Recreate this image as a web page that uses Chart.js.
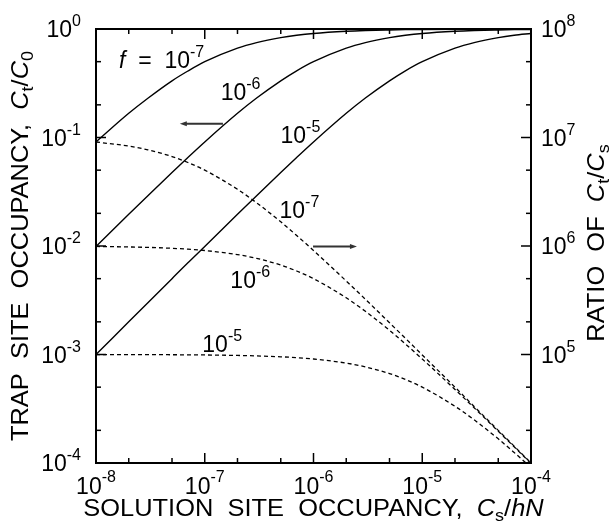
<!DOCTYPE html>
<html>
<head>
<meta charset="utf-8">
<script src="https://cdn.jsdelivr.net/npm/chart.js@4.4.1/dist/chart.umd.min.js"></script>
<style>
  html, body { margin: 0; padding: 0; background: #fff; }
  canvas { display: block; }
</style>
</head>
<body>
<canvas id="chart" width="614" height="526"></canvas>
<script>
// Solution site occupancy Cs/hN (x values)
const xValues = [1e-8, 2e-8, 3e-8, 5e-8, 7e-8, 1e-7, 2e-7, 3e-7, 5e-7, 7e-7,
  1e-6, 2e-6, 3e-6, 5e-6, 7e-6, 1e-5, 2e-5, 3e-5, 5e-5, 7e-5, 1e-4];

// Trap site occupancy Ct/C0 (solid, left axis)
const occF7 = [0.091, 0.167, 0.23, 0.333, 0.41, 0.5, 0.667, 0.75, 0.833, 0.875,
  0.909, 0.952, 0.968, 0.98, 0.986, 0.99, 0.995, 0.997, 0.998, 0.999, 0.999];
const occF6 = [0.0099, 0.0196, 0.0291, 0.0476, 0.0654, 0.0909, 0.167, 0.231, 0.333, 0.412,
  0.5, 0.667, 0.75, 0.833, 0.875, 0.909, 0.952, 0.968, 0.98, 0.986, 0.99];
const occF5 = [0.001, 0.002, 0.003, 0.005, 0.007, 0.0099, 0.0196, 0.0291, 0.0476, 0.0654,
  0.0909, 0.167, 0.231, 0.333, 0.412, 0.5, 0.667, 0.75, 0.833, 0.875, 0.909];

// Ratio Ct/Cs (dashed, right axis)
const ratioF7 = [9.09e6, 8.33e6, 7.69e6, 6.67e6, 5.88e6, 5.0e6, 3.33e6, 2.5e6, 1.67e6, 1.25e6,
  9.09e5, 4.76e5, 3.23e5, 1.96e5, 1.41e5, 9.9e4, 5.0e4, 3.32e4, 2.0e4, 1.43e4, 1.0e4];
const ratioF6 = [9.9e5, 9.8e5, 9.71e5, 9.52e5, 9.35e5, 9.09e5, 8.33e5, 7.69e5, 6.67e5, 5.88e5,
  5.0e5, 3.33e5, 2.5e5, 1.67e5, 1.25e5, 9.09e4, 4.76e4, 3.23e4, 1.96e4, 1.41e4, 9.9e3];
const ratioF5 = [9.99e4, 9.98e4, 9.97e4, 9.95e4, 9.93e4, 9.9e4, 9.8e4, 9.71e4, 9.52e4, 9.35e4,
  9.09e4, 8.33e4, 7.69e4, 6.67e4, 5.88e4, 5.0e4, 3.33e4, 2.5e4, 1.67e4, 1.25e4, 9.09e3];

// Axis ticks
const xTicks = [1e-8, 1e-7, 1e-6, 1e-5, 1e-4];
const xTickExp = ['-8', '-7', '-6', '-5', '-4'];
const yTicks = [1e-4, 1e-3, 1e-2, 1e-1, 1];
const yTickExp = ['-4', '-3', '-2', '-1', '0'];
const y2Ticks = [1e4, 1e5, 1e6, 1e7, 1e8];
const y2TickExp = ['', '5', '6', '7', '8'];

// Curve labels (data coordinates on x / left axis)
const labelX = [1.63e-8, 1.40e-7, 4.97e-7, 4.87e-7, 1.72e-7, 9.5e-8];
const labelY = [0.44, 0.223, 0.0886, 0.0181, 0.00413, 0.00106];
const labelExp = ['-7', '-6', '-5', '-7', '-6', '-5'];

// Arrows: [from x, to x, y] on the left axis
const arrows = [[1.47e-7, 5.9e-8, 0.134], [9.9e-7, 2.51e-6, 0.0099]];

const FONT = "'Liberation Sans', Arial, Helvetica, sans-serif";

const pts = arr => xValues.map((x, i) => ({ x: x, y: arr[i] }));

function setFont(ctx, size, italic) {
  ctx.font = (italic ? 'italic ' : '') + size + 'px ' + FONT;
}

// draws text parts one after another: {t, size, italic, dy}
function drawRich(ctx, parts, x, y, align, stretch) {
  stretch = stretch || 1;
  let w = 0;
  parts.forEach(p => { setFont(ctx, p.size, p.italic); w += ctx.measureText(p.t).width; });
  w *= stretch;
  const x0 = align === 'center' ? x - w / 2 : align === 'right' ? x - w : x;
  ctx.save();
  ctx.translate(x0, y);
  ctx.scale(stretch, 1);
  ctx.textAlign = 'left';
  ctx.textBaseline = 'alphabetic';
  let cx = 0;
  parts.forEach(p => {
    setFont(ctx, p.size, p.italic);
    ctx.fillText(p.t, cx, p.dy || 0);
    cx += ctx.measureText(p.t).width;
  });
  ctx.restore();
}

function powParts(exp, rise) {
  const parts = [{ t: '10', size: 23 }];
  if (exp !== '') parts.push({ t: exp, size: 16, dy: -rise });
  return parts;
}

const TITLE = 24, SUB = 17, STRETCH = 1.06;

const decorPlugin = {
  id: 'decor',
  afterDatasetsDraw(chart) {
    const ctx = chart.ctx;
    const a = chart.chartArea;
    const sx = chart.scales.x, sy = chart.scales.y, sy2 = chart.scales.y2;
    ctx.save();
    ctx.fillStyle = '#000';
    ctx.strokeStyle = '#000';

    // frame
    ctx.lineWidth = 2;
    ctx.strokeRect(a.left, a.top, a.right - a.left, a.bottom - a.top);

    // inward ticks, majors at decades, minors at 2 and 5
    ctx.lineWidth = 1.5;
    const tick = (x1, y1, x2, y2) => { ctx.beginPath(); ctx.moveTo(x1, y1); ctx.lineTo(x2, y2); ctx.stroke(); };
    xTicks.forEach(v => {
      [[v, 10], [v * 2, 5], [v * 5, 5]].forEach(([t, len]) => {
        if (t > sx.max * 1.0001) return;
        const px = sx.getPixelForValue(t);
        tick(px, a.bottom, px, a.bottom - len);
        tick(px, a.top, px, a.top + len);
      });
    });
    yTicks.forEach(v => {
      [[v, 10], [v * 2, 5], [v * 5, 5]].forEach(([t, len]) => {
        if (t > sy.max * 1.0001) return;
        const py = sy.getPixelForValue(t);
        tick(a.left, py, a.left + len, py);
      });
    });
    y2Ticks.forEach(v => {
      [[v, 10], [v * 2, 5], [v * 5, 5]].forEach(([t, len]) => {
        if (t > sy2.max * 1.0001) return;
        const py = sy2.getPixelForValue(t);
        tick(a.right, py, a.right - len, py);
      });
    });

    // tick labels
    xTicks.forEach((v, i) => {
      drawRich(ctx, powParts(xTickExp[i], 12), sx.getPixelForValue(v), a.bottom + 30.5, 'center');
    });
    yTicks.forEach((v, i) => {
      drawRich(ctx, powParts(yTickExp[i], 11), 81, sy.getPixelForValue(v) + 8.3, 'right');
    });
    y2Ticks.forEach((v, i) => {
      if (y2TickExp[i] === '') return;
      drawRich(ctx, powParts(y2TickExp[i], 11), a.right + 10, sy2.getPixelForValue(v) + 8.3, 'left');
    });

    // axis titles
    drawRich(ctx, [
      { t: 'SOLUTION  SITE  OCCUPANCY,  ', size: TITLE },
      { t: 'C', size: TITLE, italic: true },
      { t: 's', size: SUB, dy: 5 },
      { t: '/', size: TITLE },
      { t: 'hN', size: TITLE, italic: true }
    ], (a.left + a.right) / 2, 516, 'center', STRETCH);

    const midY = (a.top + a.bottom) / 2;
    ctx.save();
    ctx.translate(28, midY);
    ctx.rotate(-Math.PI / 2);
    drawRich(ctx, [
      { t: 'TRAP  SITE  OCCUPANCY,  ', size: TITLE },
      { t: 'C', size: TITLE, italic: true },
      { t: 't', size: SUB, dy: 5 },
      { t: '/', size: TITLE },
      { t: 'C', size: TITLE, italic: true },
      { t: '0', size: SUB, dy: 5 }
    ], 0, 0, 'center', STRETCH);
    ctx.restore();

    ctx.save();
    ctx.translate(604, midY - 3);
    ctx.rotate(-Math.PI / 2);
    drawRich(ctx, [
      { t: 'RATIO  OF  ', size: TITLE },
      { t: 'C', size: TITLE, italic: true },
      { t: 't', size: SUB, dy: 5 },
      { t: '/', size: TITLE },
      { t: 'C', size: TITLE, italic: true },
      { t: 's', size: SUB, dy: 5 }
    ], 0, 0, 'center', STRETCH);
    ctx.restore();

    // curve labels
    labelX.forEach((lx, i) => {
      const parts = powParts(labelExp[i], 11);
      if (i === 0) parts.unshift({ t: 'f', size: 23, italic: true }, { t: '  =  ', size: 23 });
      drawRich(ctx, parts, sx.getPixelForValue(lx), sy.getPixelForValue(labelY[i]), 'left');
    });

    // arrows
    ctx.strokeStyle = '#333';
    ctx.fillStyle = '#333';
    ctx.lineWidth = 2;
    arrows.forEach(([x0, x1, yv]) => {
      const p0 = sx.getPixelForValue(x0), p1 = sx.getPixelForValue(x1), py = sy.getPixelForValue(yv);
      const dir = Math.sign(p1 - p0);
      tick(p0, py, p1 - dir * 5, py);
      ctx.beginPath();
      ctx.moveTo(p1, py);
      ctx.lineTo(p1 - dir * 7, py - 2.5);
      ctx.lineTo(p1 - dir * 7, py + 2.5);
      ctx.closePath();
      ctx.fill();
    });
    ctx.restore();
  }
};

const solid = { borderColor: '#000', borderWidth: 1.4, pointRadius: 0, fill: false, cubicInterpolationMode: 'monotone', yAxisID: 'y' };
const dashed = { borderColor: '#000', borderWidth: 1.3, borderDash: [4, 3], pointRadius: 0, fill: false, cubicInterpolationMode: 'monotone', yAxisID: 'y2' };

const hiddenAxis = {
  type: 'logarithmic',
  ticks: { display: false },
  grid: { display: false },
  border: { display: false }
};

new Chart(document.getElementById('chart'), {
  type: 'line',
  data: {
    datasets: [
      Object.assign({ label: 'f=1e-7', data: pts(occF7) }, solid),
      Object.assign({ label: 'f=1e-6', data: pts(occF6) }, solid),
      Object.assign({ label: 'f=1e-5', data: pts(occF5) }, solid),
      Object.assign({ label: 'ratio f=1e-7', data: pts(ratioF7) }, dashed),
      Object.assign({ label: 'ratio f=1e-6', data: pts(ratioF6) }, dashed),
      Object.assign({ label: 'ratio f=1e-5', data: pts(ratioF5) }, dashed)
    ]
  },
  options: {
    responsive: false,
    animation: false,
    devicePixelRatio: 1,
    layout: { padding: { top: 29, left: 0, right: 0, bottom: 0 } },
    plugins: { legend: { display: false }, tooltip: { enabled: false } },
    scales: {
      x: Object.assign({}, hiddenAxis, { position: 'bottom', min: 1e-8, max: 1e-4, afterFit(s) { s.height = 63; } }),
      y: Object.assign({}, hiddenAxis, { position: 'left', min: 1e-4, max: 1, afterFit(s) { s.width = 96; } }),
      y2: Object.assign({}, hiddenAxis, { position: 'right', min: 1e4, max: 1e8, afterFit(s) { s.width = 83; } })
    }
  },
  plugins: [decorPlugin]
});
</script>
</body>
</html>
